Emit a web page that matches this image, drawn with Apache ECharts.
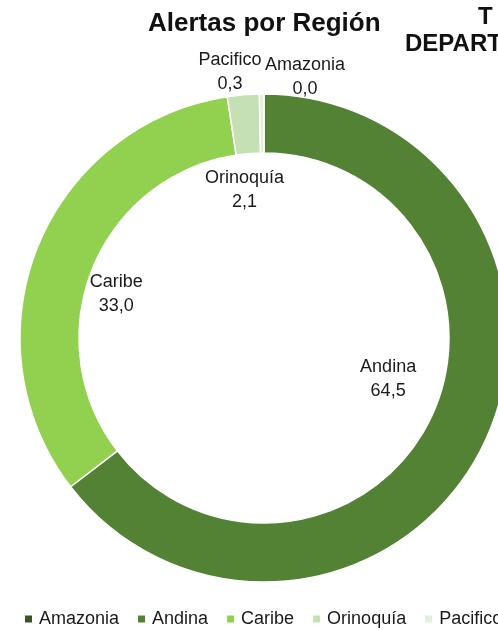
<!DOCTYPE html>
<html>
<head>
<meta charset="utf-8">
<script src="https://cdn.jsdelivr.net/npm/echarts@6/dist/echarts.min.js"></script>
<style>
  html, body { margin: 0; padding: 0; background: #ffffff; }
  #chart { width: 498px; height: 630px; }
</style>
</head>
<body>
<div id="chart"></div>
<script>
// Share of alerts per region (percent)
const regions = ['Amazonia', 'Andina', 'Caribe', 'Orinoquía', 'Pacifico'];
const shares = [0.0, 64.5, 33.0, 2.1, 0.3];
const regionColors = ['#375623', '#548235', '#92d050', '#c5e0b4', '#e2efda'];

// Label nudges from the ring's mid-radius, per region
const labelShift = [[41, -43], [-71, -55], [54, 37], [-1, 69], [-32, -48]];

const chart = echarts.init(document.getElementById('chart'), null, { renderer: 'canvas' });

const fontFamily = '"Liberation Sans", Arial, sans-serif';

chart.setOption({
  animation: false,
  backgroundColor: '#ffffff',
  title: {
    text: 'Alertas por Región',
    left: 143,
    top: 6,
    textStyle: { fontFamily: fontFamily, fontWeight: 'bold', fontSize: 26, color: '#111111' }
  },
  graphic: [
    {
      type: 'text', left: 478, top: 5,
      style: { text: 'T', font: 'bold 24px "Liberation Sans", Arial, sans-serif', fill: '#111111' }
    },
    {
      type: 'text', left: 405, top: 32,
      style: { text: 'DEPARTAMENTO', font: 'bold 24px "Liberation Sans", Arial, sans-serif', fill: '#111111' }
    }
  ],
  legend: {
    data: regions,
    left: 23,
    top: 610,
    width: 900,
    padding: 0,
    icon: 'rect',
    itemWidth: 9,
    itemHeight: 9,
    itemGap: 17,
    selectedMode: false,
    textStyle: { fontFamily: fontFamily, fontSize: 18, color: '#1a1a1a', padding: [0, 0, 0, 1] }
  },
  series: [{
    type: 'pie',
    center: [264, 338],
    radius: [185, 244],
    startAngle: 90,
    clockwise: true,
    avoidLabelOverlap: false,
    minShowLabelAngle: 0,
    emphasis: { disabled: true },
    itemStyle: { borderColor: '#ffffff', borderWidth: 1.5 },
    label: {
      show: true,
      position: 'inside',
      fontFamily: fontFamily,
      fontSize: 18,
      lineHeight: 24,
      color: '#1a1a1a',
      align: 'center',
      formatter: function (p) {
        return p.name + '\n' + p.value.toFixed(1).replace('.', ',');
      }
    },
    labelLine: { show: false },
    labelLayout: function (params) {
      const s = labelShift[params.dataIndex];
      return { dx: s[0], dy: s[1] };
    },
    data: regions.map(function (name, i) {
      return { name: name, value: shares[i], itemStyle: { color: regionColors[i] } };
    })
  }]
});
</script>
</body>
</html>
